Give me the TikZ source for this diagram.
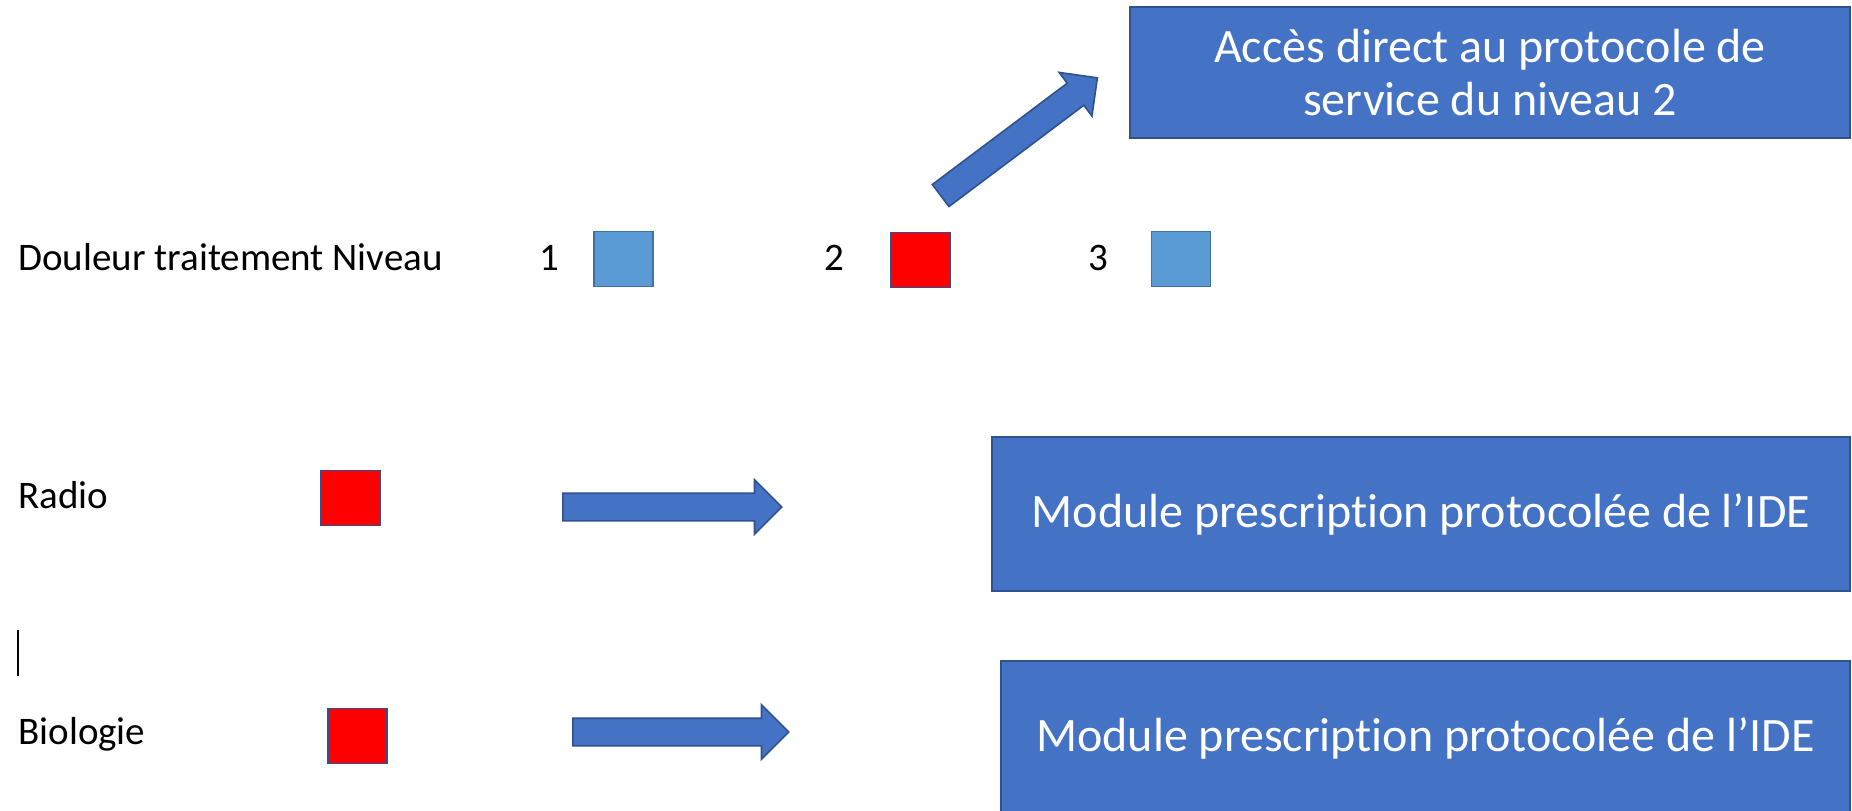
\documentclass[tikz,border=0pt]{standalone}
\usepackage{fontspec}
\setmainfont{Carlito}[Ligatures=NoCommon]
\usetikzlibrary{shapes.arrows}
\definecolor{boxblue}{HTML}{4472C4}
\definecolor{boxedge}{HTML}{2F528F}
\definecolor{sqblue}{HTML}{5B9BD5}
\definecolor{sqedge}{HTML}{41719C}
\definecolor{sqred}{HTML}{FF0000}
\begin{document}
\begin{tikzpicture}[x=0.5pt,y=-0.5pt,
  bluebox/.style={draw=boxedge, line width=0.8pt, fill=boxblue, text=white,
    font=\fontsize{24}{26.5}\selectfont, align=center, inner sep=0pt},
  lbl/.style={font=\fontsize{19.5}{23}\selectfont, anchor=base west, inner sep=0pt},
  digit/.style={font=\fontsize{19.5}{23}\selectfont, anchor=base, inner sep=0pt},
  bluesq/.style={draw=sqedge, line width=0.9pt, fill=sqblue, minimum width=29.5pt, minimum height=27.5pt, inner sep=0pt},
  redsq/.style={draw=boxedge, line width=0.9pt, fill=sqred, minimum width=29.5pt, minimum height=27.5pt, inner sep=0pt},
  blockarrow/.style={single arrow, draw=boxedge, line width=0.8pt, fill=boxblue,
    inner xsep=0pt, inner ysep=6.5pt, single arrow head extend=6.75pt,
    single arrow tip angle=90, anchor=tail}
]
\useasboundingbox (0,0) rectangle (1852,810);
\clip (0,0) rectangle (1852,810);

% top box
\node[bluebox, minimum width=360pt, minimum height=65.5pt] (acces) at (1490,72.5)
  {Accès direct au protocole de\\service du niveau 2};

% row 1
\node[lbl] (douleur) at (18,270) {Douleur traitement Niveau};
\node[digit] (d1) at (549,270) {1};
\node[bluesq] (s1) at (623.5,259) {};
\node[digit] (d2) at (834,270) {2};
\node[redsq] (s2) at (920.5,260) {};
\node[digit] (d3) at (1098,270) {3};
\node[bluesq] (s3) at (1181,259) {};

% diagonal arrow
\node[blockarrow, rotate=36.9, minimum height=98pt] (diag) at (940,196) {};

% Radio row
\node[lbl] (radio) at (18,508) {Radio};
\node[redsq] (rsq) at (350.5,498) {};
\node[blockarrow, minimum height=109.5pt] (rarrow) at (562,507) {};
\node[bluebox, minimum width=429pt, minimum height=77pt] (mod1) at (1421,514)
  {Module prescription protocolée de l’IDE};

% cursor
\draw[line width=0.75pt] (18,630) -- (18,676);

% Biologie row
\node[lbl] (bio) at (18,744) {Biologie};
\node[redsq] (bsq) at (357.5,736) {};
\node[blockarrow, minimum height=108pt] (barrow) at (572,732) {};
\node[bluebox, minimum width=424.5pt, minimum height=77pt] (mod2) at (1425.5,738)
  {Module prescription protocolée de l’IDE};
\end{tikzpicture}
\end{document}
